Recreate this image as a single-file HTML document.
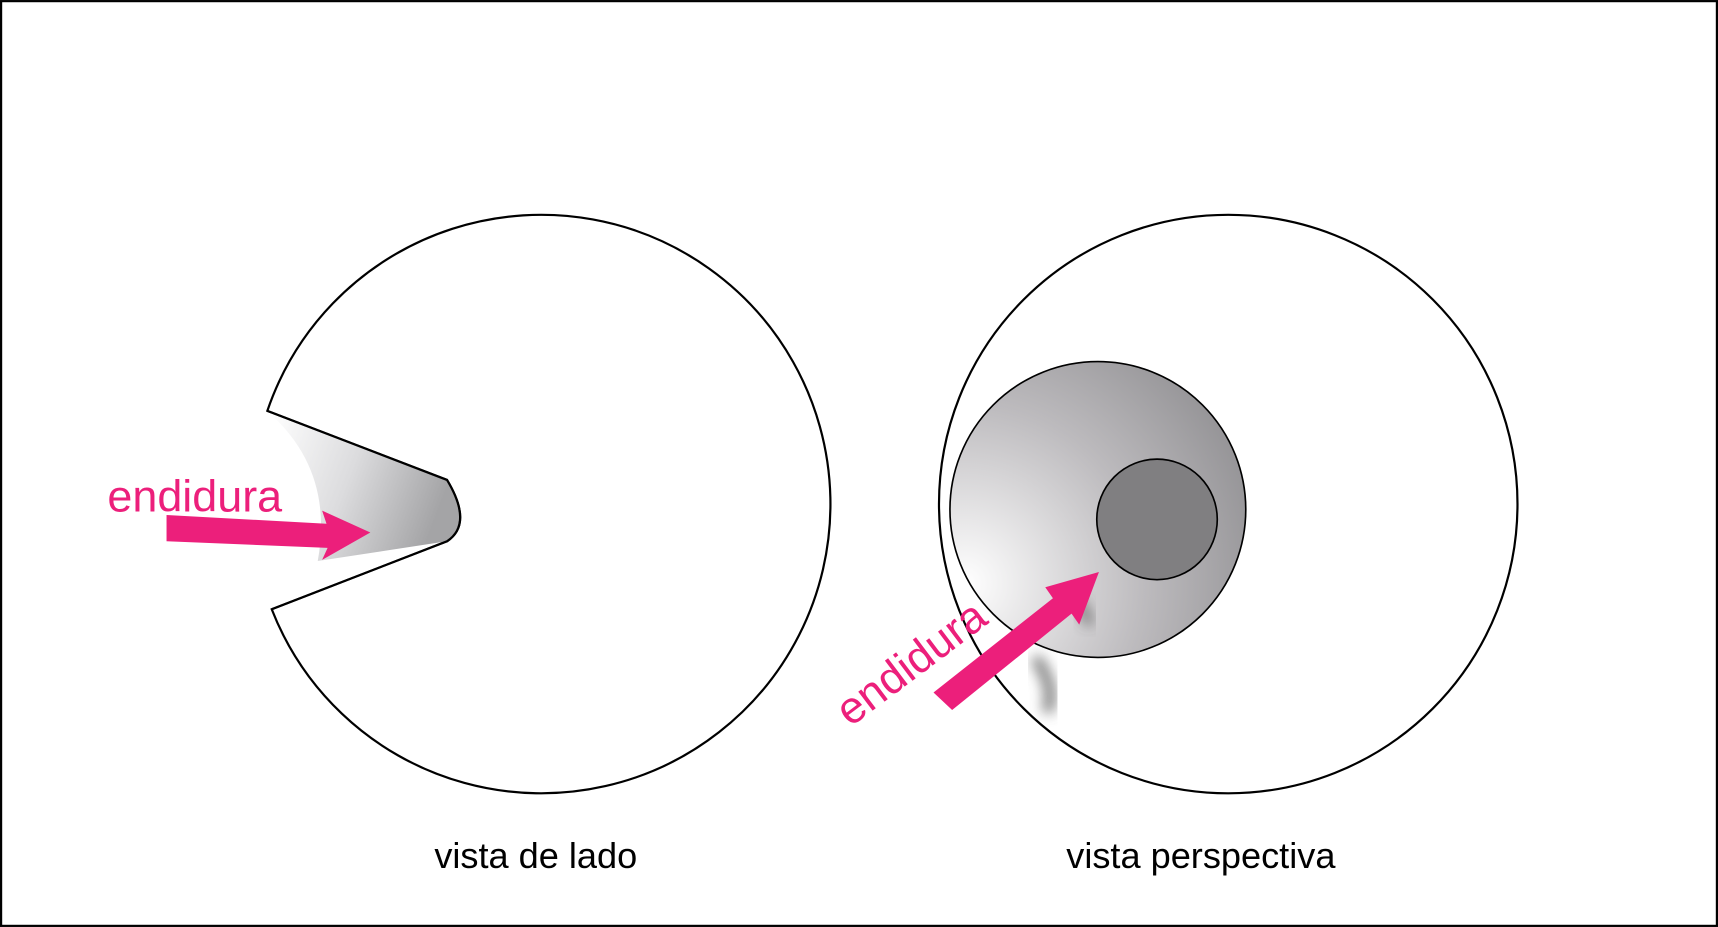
<!DOCTYPE html>
<html><head><meta charset="utf-8"><style>
html,body{margin:0;padding:0;background:#fff;}
svg{display:block;}
</style></head><body>
<svg width="1718" height="927" viewBox="0 0 1568 846" xmlns="http://www.w3.org/2000/svg">
<defs>
<linearGradient id="wedge" x1="0" y1="0" x2="1" y2="0.3">
<stop offset="0" stop-color="#ffffff"/>
<stop offset="0.5" stop-color="#dcdcde"/>
<stop offset="1" stop-color="#a4a4a6"/>
</linearGradient>
<radialGradient id="inner" cx="0.05" cy="0.75" r="1.1">
<stop offset="0" stop-color="#ffffff"/>
<stop offset="0.55" stop-color="#bdbbbe"/>
<stop offset="1" stop-color="#8e8d90"/>
</radialGradient>
<filter id="blur" x="-50%" y="-50%" width="200%" height="200%"><feGaussianBlur stdDeviation="6"/></filter>
</defs>
<rect x="1" y="1" width="1566" height="844" fill="#fff" stroke="#000" stroke-width="2"/>
<path d="M244,375 A264,264 0 1 1 248,556 L408,494 Q432,478 408,438 Z" fill="#fff" stroke="#000" stroke-width="2"/>
<path d="M246,377 L408,438 Q430,478 408,494 L290,512 Q305,430 246,377 Z" fill="url(#wedge)"/>
<path d="M244,375 L408,438 Q432,478 408,494 L248,556" fill="none" stroke="#000" stroke-width="2"/>
<circle cx="1121" cy="460" r="264" fill="#fff" stroke="#000" stroke-width="2"/>
<circle cx="1002" cy="465" r="135" fill="url(#inner)" stroke="#000" stroke-width="1.5"/>
<circle cx="1056" cy="474" r="55" fill="#807f81" stroke="#000" stroke-width="1.5"/>
<path d="M945,600 Q965,630 955,650" stroke="#555" stroke-width="10" fill="none" filter="url(#blur)" opacity="0.8"/>
<path d="M985,548 L995,570" stroke="#444" stroke-width="8" fill="none" filter="url(#blur)" opacity="0.7"/>
<polygon points="152,470 298,478 294,466 338,486 294,511 299,500 152,494" fill="#ec1f7b"/>
<polygon points="852,632 961,546 954,536 1003,522 985,570 978,560 869,648" fill="#ec1f7b"/>
<text x="98" y="467" font-family="Liberation Sans, sans-serif" font-size="41" fill="#ec1f7b">endidura</text>
<text transform="translate(776,664) rotate(-37)" font-family="Liberation Sans, sans-serif" font-size="41" fill="#ec1f7b">endidura</text>
<text x="489" y="792" text-anchor="middle" font-family="Liberation Sans, sans-serif" font-size="33" fill="#000">vista de lado</text>
<text x="1096" y="792" text-anchor="middle" font-family="Liberation Sans, sans-serif" font-size="33" fill="#000">vista perspectiva</text>
</svg>
</body></html>
